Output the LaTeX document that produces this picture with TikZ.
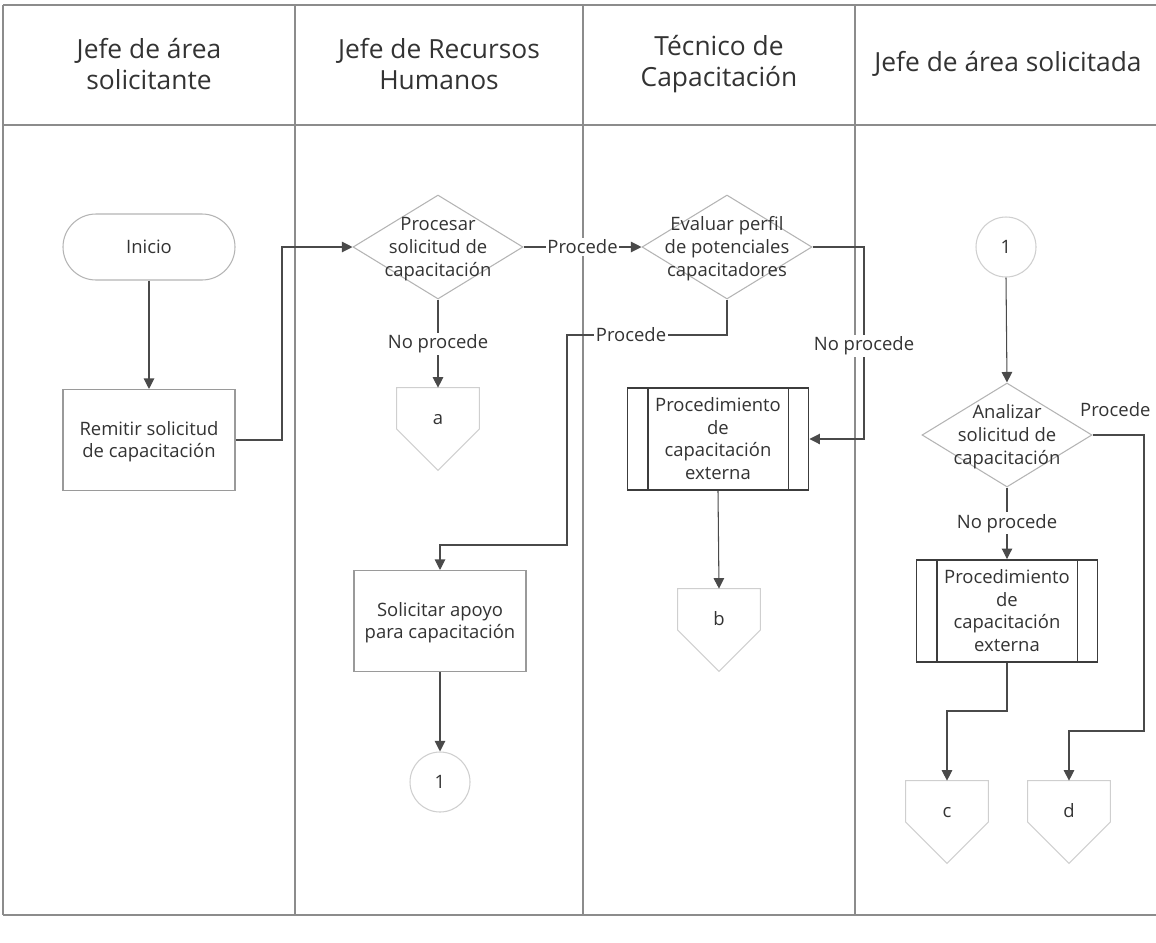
\documentclass[tikz,border=0pt]{standalone}
\usepackage{fontspec}
\setmainfont{Open Sans}
\usetikzlibrary{arrows.meta,shapes.geometric,shapes.misc}

% centred multi-line text that does not enlarge its node
\newcommand\ctext[1]{\smash{\raisebox{-3.8pt}{\makebox[0pt]{\begin{tabular}{@{}c@{}}#1\end{tabular}}}}}
% letter inside an off-page connector, set in its upper part
\newcommand\otext[1]{\smash{\raisebox{2.4pt}{\makebox[0pt]{#1}}}}

\definecolor{ink}{HTML}{333333}
\definecolor{wire}{HTML}{4A4A4A}
\definecolor{lanec}{HTML}{8C8C8C}
\definecolor{boxc}{HTML}{9A9A9A}
\definecolor{diac}{HTML}{B4B4B4}
\definecolor{softc}{HTML}{CFCFCF}
\definecolor{procc}{HTML}{3C3C3C}

\begin{document}
\begin{tikzpicture}[x=0.2mm,y=-0.2mm,
  every node/.style={text=ink},
  body/.style={font=\fontsize{10.5pt}{13pt}\selectfont},
  hdr/.style={font=\fontsize{15pt}{18pt}\selectfont, align=center},
  lane/.style={draw=lanec, line width=0.6pt},
  conn/.style={draw=wire, line width=0.6pt},
  arr/.style={conn, -{Triangle[length=2.1mm,width=2.1mm]}},
  lbl/.style={body, fill=white, inner sep=1pt},
  stepbox/.style={body, draw=boxc, line width=0.6pt, fill=white,
    minimum width=34.4mm, minimum height=20.2mm, inner sep=0pt},
  term/.style={body, rounded rectangle, draw=diac, line width=0.6pt,
    fill=white, minimum width=34.4mm, minimum height=13.2mm, inner sep=0pt},
  dia/.style={body, diamond, draw=diac, line width=0.6pt, fill=white,
    minimum width=34mm, minimum height=20.8mm, inner sep=0pt},
  proc/.style={body, draw=procc, line width=1.1pt, fill=white,
    minimum width=36.2mm, minimum height=20.4mm, inner sep=0pt},
  conncirc/.style={body, circle, draw=softc, line width=0.6pt, fill=white,
    minimum size=12mm, inner sep=0pt},
  offp/.style={body, minimum width=16.4mm, minimum height=16.4mm,
    inner sep=0pt},
  offline/.style={draw=softc, line width=0.6pt}
]
\useasboundingbox (0,0) rectangle (1156,942);

% swimlane frame
\draw[lane] (3,5) -- (1156,5);
\draw[lane] (3,125) -- (1156,125);
\draw[lane] (3,915) -- (1156,915);
\draw[lane] (3,5) -- (3,915);
\foreach \lx in {295,583,855} \draw[lane] (\lx,5) -- (\lx,915);

% lane titles
\node[hdr] (h1) at (149,64) {Jefe de área\\solicitante};
\node[hdr] (h2) at (439,64) {Jefe de Recursos\\Humanos};
\node[hdr] (h3) at (719,64) {Técnico de\\Capacitación};
\node[hdr] (h4) at (1008,64) {Jefe de área solicitada};

% lane 1
\node[term] (ini) at (149,247) {Inicio};
\node[stepbox] (rem) at (149,440) {\ctext{Remitir solicitud\\de capacitación}};

% lane 2
\node[dia] (dpro) at (438,247) {\ctext{Procesar\\solicitud de\\capacitación}};
\node[offp] (oa) at (438,429) {\otext{a}};
\node[stepbox] (sol) at (440,621) {\ctext{Solicitar apoyo\\para capacitación}};
\node[conncirc] (cl) at (440,782) {1};

% lane 3
\node[dia] (deva) at (727,247) {\ctext{Evaluar perfil\\de potenciales\\capacitadores}};
\node[proc] (pe) at (718,439) {\ctext{Procedimiento\\de\\capacitación\\externa}};
\node[offp] (ob) at (719,630) {\otext{b}};

% lane 4
\node[conncirc] (cr) at (1006,247) {1};
\node[dia] (dana) at (1007,435) {\ctext{Analizar\\solicitud de\\capacitación}};
\node[proc] (pe2) at (1007,611) {\ctext{Procedimiento\\de\\capacitación\\externa}};
\node[offp] (oc) at (947,822) {\otext{c}};
\node[offp] (od) at (1069,822) {\otext{d}};

% inner bars of the predefined-process boxes
\foreach \p in {pe,pe2} {
  \draw[draw=procc, line width=1.1pt]
    ([xshift=4.2mm]\p.north west) -- ([xshift=4.2mm]\p.south west);
  \draw[draw=procc, line width=1.1pt]
    ([xshift=-4.2mm]\p.north east) -- ([xshift=-4.2mm]\p.south east);
}

% off-page connector outlines
\foreach \o in {oa,ob,oc,od}
  \draw[offline] (\o.north west) -- (\o.north east) -- (\o.east)
    -- (\o.south) -- (\o.west) -- cycle;

% bend points
\coordinate (k1) at (282,440);
\coordinate (k2) at (567,335);
\coordinate (k3) at (567,545);
\coordinate (k4) at (864,346);
\coordinate (k5) at (1144,731);
\coordinate (k6) at (947,711);

% flow
\draw[arr] (ini.south) -- (rem.north);
\draw[arr] (rem.east) -- (k1) |- (dpro.west);
\draw[arr] (dpro.east) -- node[lbl] (lp1) {Procede} (deva.west);
\draw[arr] (dpro.south) -- node[lbl] (ln1) {No procede} (oa.north);
\draw[arr] (deva.south) |- node[lbl, pos=0.8] (lp2) {Procede} (k2)
  -- (k3) -| (sol.north);
\draw[arr] (deva.east) -| (k4) node[lbl] (ln2) {No procede} |- (pe.east);
\draw[arr] (pe.south) -- (ob.north);
\draw[arr] (sol.south) -- (cl.north);
\draw[arr] (cr.south) -- (dana.north);
\draw[arr] (dana.south) -- node[lbl] (ln3) {No procede} (pe2.north);
\draw[arr] (dana.east) -| (k5) -| (od.north);
\node[body, anchor=west] (lp3) at (1074,410) {Procede};
\draw[arr] (pe2.south) |- (k6) -- (oc.north);
\end{tikzpicture}
\end{document}
